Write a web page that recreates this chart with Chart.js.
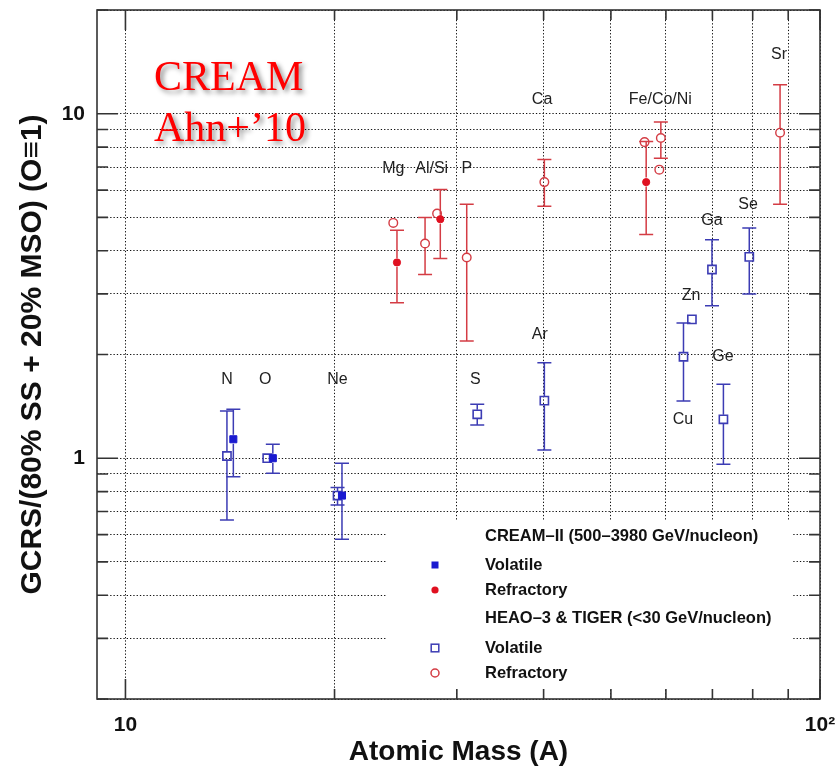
<!DOCTYPE html>
<html>
<head>
<meta charset="utf-8">
<script src="https://cdn.jsdelivr.net/npm/chart.js@4"></script>
<style>
  body { margin: 0; background: #fff; }
  #wrap { position: relative; width: 838px; height: 770px; }
  #tag {
    position: absolute; left: 154px; top: 51px;
    font-family: "Liberation Serif", "Times New Roman", serif;
    font-size: 42px; line-height: 50.7px; color: #ff0000;
    text-shadow: 3px 3px 5px rgba(0, 0, 0, 0.45);
    pointer-events: none;
  }
</style>
</head>
<body>
<div id="wrap">
  <canvas id="c" width="838" height="770"></canvas>
  <div id="tag">CREAM<br>Ahn+’10</div>
</div>
<script>
  // CREAM-II (500-3980 GeV/nucleon)
  const creamVolA = [14.3, 16.3, 20.5];
  const creamVolRatio = [1.135, 1.0, 0.779];
  const creamVolLo = [0.883, 0.905, 0.582];
  const creamVolHi = [1.387, 1.098, 0.967];

  const creamRefA = [24.6, 28.4, 56.2];
  const creamRefRatio = [3.70, 4.94, 6.33];
  const creamRefLo = [2.825, 3.80, 4.46];
  const creamRefHi = [4.59, 6.03, 8.30];

  // HEAO-3 & TIGER (<30 GeV/nucleon)
  const heaoVolA = [14.0, 16.0, 20.2, 32.1, 40.1, 63.6, 65.4, 69.9, 72.6, 79.1];
  const heaoVolRatio = [1.015, 1.0, 0.779, 1.341, 1.469, 1.97, 2.53, 3.53, 1.297, 3.84];
  const heaoVolLo = [0.662, null, 0.732, 1.249, 1.057, 1.466, null, 2.77, 0.961, 2.995];
  const heaoVolHi = [1.371, null, 0.822, 1.434, 1.893, 2.47, null, 4.31, 1.639, 4.66];

  const heaoRefA = [24.3, 27.0, 28.1, 31.0, 40.1, 55.9, 58.7, 59.0, 87.6];
  const heaoRefRatio = [4.82, 4.20, 5.13, 3.825, 6.33, 8.27, 6.88, 8.50, 8.81];
  const heaoRefLo = [null, 3.415, null, 2.19, 5.39, null, null, 7.43, 5.46];
  const heaoRefHi = [null, 4.996, null, 5.46, 7.36, null, null, 9.46, 12.14];

  // element names, anchored in data units
  const elementNames = ["N", "O", "Ne", "S", "Mg", "Al/Si", "P", "Ca", "Fe/Co/Ni", "Sr", "Se", "Ga", "Zn", "Ar", "Ge", "Cu"];
  const elementA = [14.0, 15.9, 20.2, 31.9, 24.3, 27.6, 31.0, 39.8, 58.9, 87.3, 78.8, 69.9, 65.2, 39.5, 72.5, 63.5];
  const elementRatio = [1.69, 1.69, 1.69, 1.69, 6.94, 6.94, 6.94, 11.0, 11.0, 14.86, 5.46, 4.91, 2.97, 2.28, 1.966, 1.291];

  const xTicks = [10, 20, 30, 40, 50, 60, 70, 80, 90, 100];
  const yTicks = [0.2, 0.3, 0.4, 0.5, 0.6, 0.7, 0.8, 0.9, 1, 2, 3, 4, 5, 6, 7, 8, 9, 10, 20];

  const SANS = '"Liberation Sans", Arial, Helvetica, sans-serif';
  const BLUE = "#3c3cb4";
  const RED = "#d43c44";

  function pts(xs, ys) {
    return xs.map((x, i) => ({ x, y: ys[i] }));
  }

  const errorSets = [
    { lo: creamVolLo, hi: creamVolHi, color: BLUE },
    { lo: creamRefLo, hi: creamRefHi, color: RED },
    { lo: heaoVolLo, hi: heaoVolHi, color: BLUE },
    { lo: heaoRefLo, hi: heaoRefHi, color: RED },
  ];

  const errorBars = {
    id: "errorBars",
    beforeDatasetsDraw(chart) {
      const { ctx } = chart;
      const ys = chart.scales.y;

      // legend box covers the grid in the lower right
      ctx.save();
      ctx.fillStyle = "#fff";
      ctx.fillRect(387, 521, 406, 168);
      ctx.restore();

      ctx.save();
      ctx.lineWidth = 1.5;
      errorSets.forEach((set, di) => {
        const meta = chart.getDatasetMeta(di);
        ctx.strokeStyle = set.color;
        meta.data.forEach((pt, i) => {
          if (set.lo[i] == null) return;
          const x = pt.x;
          const yLo = ys.getPixelForValue(set.lo[i]);
          const yHi = ys.getPixelForValue(set.hi[i]);
          const gap = 4.5;
          ctx.beginPath();
          ctx.moveTo(x, yHi);
          ctx.lineTo(x, Math.max(yHi, pt.y - gap));
          ctx.moveTo(x, Math.min(yLo, pt.y + gap));
          ctx.lineTo(x, yLo);
          ctx.moveTo(x - 7, yHi);
          ctx.lineTo(x + 7, yHi);
          ctx.moveTo(x - 7, yLo);
          ctx.lineTo(x + 7, yLo);
          ctx.stroke();
        });
      });
      ctx.restore();
    },
    afterDatasetsDraw(chart) {
      const { ctx } = chart;
      const xs = chart.scales.x;
      const ys = chart.scales.y;

      // element names
      ctx.save();
      ctx.fillStyle = "#222";
      ctx.font = "16px " + SANS;
      ctx.textAlign = "center";
      ctx.textBaseline = "middle";
      elementNames.forEach((name, i) => {
        ctx.fillText(name, xs.getPixelForValue(elementA[i]), ys.getPixelForValue(elementRatio[i]));
      });
      ctx.restore();

      // legend
      ctx.save();
      ctx.fillStyle = "#111";
      ctx.font = "bold 16.5px " + SANS;
      ctx.textBaseline = "middle";
      const tx = 485, mx = 435;
      ctx.fillText("CREAM–II (500–3980 GeV/nucleon)", tx, 536);
      ctx.fillText("Volatile", tx, 565);
      ctx.fillText("Refractory", tx, 590);
      ctx.fillText("HEAO–3 & TIGER (<30 GeV/nucleon)", tx, 618);
      ctx.fillText("Volatile", tx, 648);
      ctx.fillText("Refractory", tx, 673);

      ctx.fillStyle = "#1a1ad0";
      ctx.fillRect(mx - 3.5, 565 - 3.5, 7, 7);
      ctx.fillStyle = "#e01020";
      ctx.beginPath();
      ctx.arc(mx, 590, 3.6, 0, Math.PI * 2);
      ctx.fill();
      ctx.lineWidth = 1.5;
      ctx.strokeStyle = BLUE;
      ctx.strokeRect(mx - 3.8, 648 - 3.8, 7.6, 7.6);
      ctx.strokeStyle = RED;
      ctx.beginPath();
      ctx.arc(mx, 673, 4, 0, Math.PI * 2);
      ctx.stroke();
      ctx.restore();
    },
    afterDraw(chart) {
      const { ctx, chartArea: a } = chart;
      const xs = chart.scales.x;
      const ys = chart.scales.y;
      ctx.save();
      ctx.strokeStyle = "#333";
      ctx.lineWidth = 1.6;
      ctx.strokeRect(a.left, a.top, a.right - a.left, a.bottom - a.top);
      ctx.beginPath();
      xTicks.forEach((v) => {
        const x = xs.getPixelForValue(v);
        const len = v === 10 || v === 100 ? 20 : 10;
        ctx.moveTo(x, a.bottom);
        ctx.lineTo(x, a.bottom - len);
        ctx.moveTo(x, a.top);
        ctx.lineTo(x, a.top + len);
      });
      yTicks.forEach((v) => {
        const y = ys.getPixelForValue(v);
        const len = v === 1 || v === 10 ? 21 : 11;
        ctx.moveTo(a.left, y);
        ctx.lineTo(a.left + len, y);
        ctx.moveTo(a.right, y);
        ctx.lineTo(a.right - len, y);
      });
      ctx.stroke();
      ctx.restore();
    },
  };

  new Chart(document.getElementById("c"), {
    type: "scatter",
    data: {
      datasets: [
        {
          label: "CREAM-II Volatile",
          data: pts(creamVolA, creamVolRatio),
          pointStyle: "rect",
          pointRadius: 5,
          backgroundColor: "#1a1ad0",
          borderColor: "#1a1ad0",
          borderWidth: 1,
        },
        {
          label: "CREAM-II Refractory",
          data: pts(creamRefA, creamRefRatio),
          pointStyle: "circle",
          pointRadius: 3.6,
          backgroundColor: "#e01020",
          borderColor: "#e01020",
          borderWidth: 1,
        },
        {
          label: "HEAO-3 & TIGER Volatile",
          data: pts(heaoVolA, heaoVolRatio),
          pointStyle: "rect",
          pointRadius: 5.8,
          backgroundColor: "rgba(0,0,0,0)",
          borderColor: BLUE,
          borderWidth: 1.6,
        },
        {
          label: "HEAO-3 & TIGER Refractory",
          data: pts(heaoRefA, heaoRefRatio),
          pointStyle: "circle",
          pointRadius: 4.3,
          backgroundColor: "rgba(0,0,0,0)",
          borderColor: RED,
          borderWidth: 1.4,
        },
      ],
    },
    options: {
      responsive: false,
      animation: false,
      events: [],
      layout: { padding: { top: 10, right: 18, left: 0, bottom: 0 } },
      plugins: { legend: { display: false }, tooltip: { enabled: false } },
      scales: {
        x: {
          type: "logarithmic",
          min: 9.1,
          max: 100,
          bounds: "data",
          afterBuildTicks: (s) => { s.ticks = xTicks.map((v) => ({ value: v })); },
          afterFit: (s) => { s.height = 71; s.paddingLeft = 0; s.paddingRight = 0; },
          grid: { color: "#111", lineWidth: 1, drawTicks: false },
          border: { display: false, dash: [1.3, 2] },
          ticks: {
            autoSkip: false,
            maxRotation: 0,
            padding: 14,
            color: "#111",
            font: { family: SANS, weight: "bold", size: 21 },
            callback: (v) => (v === 10 ? "10" : v === 100 ? "10²" : ""),
          },
          title: {
            display: true,
            text: "Atomic Mass (A)",
            color: "#111",
            font: { family: SANS, weight: "bold", size: 28 },
            padding: { top: 0, bottom: 1 },
          },
        },
        y: {
          type: "logarithmic",
          min: 0.2,
          max: 20,
          bounds: "data",
          afterBuildTicks: (s) => { s.ticks = yTicks.map((v) => ({ value: v })); },
          afterFit: (s) => { s.width = 97; s.paddingTop = 0; s.paddingBottom = 0; },
          grid: { color: "#111", lineWidth: 1, drawTicks: false },
          border: { display: false, dash: [1.3, 2] },
          ticks: {
            autoSkip: false,
            padding: 12,
            color: "#111",
            font: { family: SANS, weight: "bold", size: 21 },
            callback: (v) => (v === 1 ? "1" : v === 10 ? "10" : ""),
          },
          title: {
            display: true,
            text: "GCRS/(80% SS + 20% MSO) (O≡1)",
            color: "#111",
            font: { family: SANS, weight: "bold", size: 30 },
            padding: { top: 15, bottom: 0 },
          },
        },
      },
    },
    plugins: [errorBars],
  });
</script>
</body>
</html>
